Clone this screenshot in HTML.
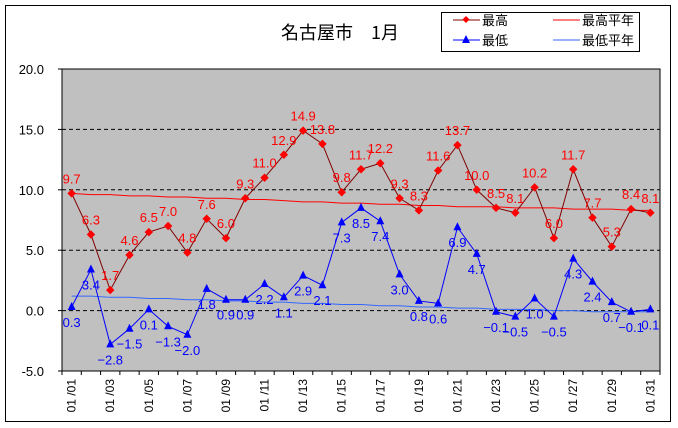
<!DOCTYPE html>
<html><head><meta charset="utf-8"><style>
body{margin:0;background:#fff;}
svg{display:block;font-family:"Liberation Sans","Noto Sans CJK JP",sans-serif;}
</style></head><body>
<svg id="chart" width="678" height="428">
<rect x="5.5" y="5.5" width="665" height="416" fill="#fff" stroke="#000"/>
<text x="340" y="39" font-size="18" text-anchor="middle" font-family="'Noto Sans CJK JP',sans-serif">名古屋市　1月</text>
<g>
<rect x="441.5" y="12.5" width="198" height="39" fill="#fff" stroke="#000"/>
<g><line x1="453" y1="20" x2="480" y2="20" stroke="#800000"/><rect x="463.5" y="17" width="5" height="5" fill="#f00" transform="rotate(45 466 19.5)"/><text x="482" y="25" font-size="13">最高</text></g>
<g><line x1="553" y1="20" x2="580" y2="20" stroke="#f00"/><text x="582" y="25" font-size="13">最高平年</text></g>
<g><line x1="453" y1="40" x2="480" y2="40" stroke="#00f"/><polygon points="466,35 470,43 462,43" fill="#00f"/><text x="482" y="45" font-size="13">最低</text></g>
<g><line x1="553" y1="40" x2="580" y2="40" stroke="#3366ff"/><text x="582" y="45" font-size="13">最低平年</text></g>
</g>
<rect x="62" y="69" width="598" height="302" fill="#c0c0c0" stroke="#000"/>
<g id="grid"></g><g id="axes"></g><g id="series"></g><g id="labels"></g>
</svg>
<script>
const days = Array.from({length:31},(_,i)=>"01/"+String(i+1).padStart(2,"0"));
const maxTemps = [9.7,6.3,1.7,4.6,6.5,7.0,4.8,7.6,6.0,9.3,11.0,12.9,14.9,13.8,9.8,11.7,12.2,9.3,8.3,11.6,13.7,10.0,8.5,8.1,10.2,6.0,11.7,7.7,5.3,8.4,8.1];
const minTemps = [0.3,3.4,-2.8,-1.5,0.1,-1.3,-2.0,1.8,0.9,0.9,2.2,1.1,2.9,2.1,7.3,8.5,7.4,3.0,0.8,0.6,6.9,4.7,-0.1,-0.5,1.0,-0.5,4.3,2.4,0.7,-0.1,0.1];
const maxNormal = [9.7,9.6,9.6,9.5,9.5,9.4,9.4,9.3,9.3,9.2,9.2,9.1,9.0,9.0,8.9,8.9,8.8,8.8,8.7,8.7,8.6,8.6,8.6,8.5,8.5,8.5,8.4,8.4,8.4,8.3,8.3];
const minNormal = [1.2,1.2,1.1,1.1,1.0,1.0,0.9,0.9,0.8,0.8,0.7,0.7,0.6,0.6,0.5,0.5,0.4,0.4,0.3,0.3,0.2,0.2,0.1,0.1,0.1,0.0,0.0,-0.1,-0.1,-0.1,-0.1];
const yTicks = [20,15,10,5,0,-5];
const L=62,R=660,T=69,B=371,YMAX=20,YMIN=-5;
const bw=(R-L)/days.length;
const x=i=>L+bw*(i+0.5);
const y=v=>T+(YMAX-v)/(YMAX-YMIN)*(B-T);
const NS="http://www.w3.org/2000/svg";
function mk(tag,attrs,parent){const e=document.createElementNS(NS,tag);for(const k in attrs)e.setAttribute(k,attrs[k]);document.getElementById(parent).appendChild(e);return e;}
yTicks.forEach(v=>{
  if(v<YMAX&&v>YMIN){const g=mk("line",{x1:L,x2:R,y1:y(v),y2:y(v),stroke:"#000","stroke-dasharray":"4,3"},"grid");
  
  }
  const t=mk("text",{x:L-18,y:y(v)+5,"font-size":"13","text-anchor":"end"},"axes");t.textContent=v.toFixed(1);
  
  
  mk("line",{x1:L-4,x2:L,y1:y(v),y2:y(v),stroke:"#000"},"axes");
});
for(let i=0;i<=days.length;i++){mk("line",{x1:L+bw*i,x2:L+bw*i,y1:B,y2:B+4,stroke:"#000"},"axes");}
days.forEach((d,i)=>{if(i%2===0){const t=mk("text",{x:0,y:0,"font-size":"12","text-anchor":"end",transform:`translate(${x(i)+4},${B+8}) rotate(-90)`},"axes");t.textContent=d.replace("/"," /");
  
  }});
function line(arr,color,name){const p=mk("polyline",{points:arr.map((v,i)=>x(i)+","+y(v)).join(" "),fill:"none",stroke:color,"stroke-width":"1"},"series");
  
  }
line(maxNormal,"#ff0000","max-normal-line");
line(minNormal,"#3366ff","min-normal-line");
line(maxTemps,"#800000","max-line");
line(minTemps,"#0000ff","min-line");
maxTemps.forEach((v,i)=>{const m=mk("rect",{x:x(i)-3,y:y(v)-3,width:6,height:6,fill:"#f00",transform:`rotate(45 ${x(i)} ${y(v)})`},"series");
  
  
  const t=mk("text",{x:x(i),y:y(v)-10,"font-size":"13",fill:"#f00","text-anchor":"middle"},"labels");t.textContent=v.toFixed(1);
  
  });
minTemps.forEach((v,i)=>{const m=mk("polygon",{points:`${x(i)},${y(v)-5} ${x(i)+4},${y(v)+3} ${x(i)-4},${y(v)+3}`,fill:"#00f"},"series");
  
  
  const t=mk("text",{x:x(i),y:y(v)+20,"font-size":"13",fill:"#00f","text-anchor":"middle"},"labels");t.textContent=v.toFixed(1).replace("-","−");
  
  });
</script>
</body></html>
